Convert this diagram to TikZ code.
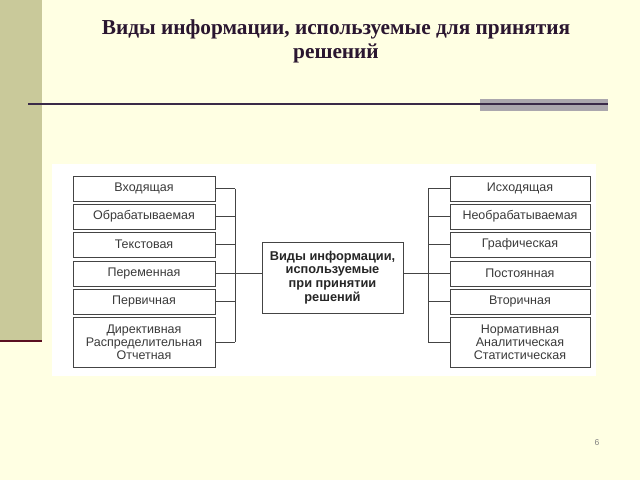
\documentclass[tikz,border=0pt]{standalone}
\usepackage{fontspec}
\setmainfont{Liberation Serif}
\newfontfamily\diag{Liberation Sans}
\definecolor{bgc}{HTML}{FFFFE3}
\definecolor{band}{HTML}{C9C99A}
\definecolor{redline}{HTML}{5A1020}
\definecolor{titlec}{HTML}{2A1630}
\definecolor{rulec}{HTML}{3A2A48}
\definecolor{barc}{HTML}{ABA7AD}
\definecolor{boxc}{HTML}{444444}
\definecolor{txt}{HTML}{3A3A3A}
\begin{document}
\begin{tikzpicture}[x=1pt,y=-1pt,
  cell/.style={draw=boxc, line width=1pt, fill=white, minimum height=25pt, inner sep=0pt,
    font=\diag\fontsize{12.5}{13}\selectfont, text=txt, align=center},
  lcell/.style={cell, minimum width=142pt},
  rcell/.style={cell, minimum width=140pt},
  tall/.style={minimum height=50pt},
  hub/.style={draw=boxc, line width=1pt, fill=white, minimum width=141pt, minimum height=71pt,
    inner sep=0pt, align=center, font=\diag\bfseries\fontsize{12.8}{13.8}\selectfont, text=black!85},
  conn/.style={draw=boxc, line width=1pt},
  titletext/.style={font=\bfseries\fontsize{21.3}{24}\selectfont, text=titlec, inner sep=0pt}
]
\useasboundingbox (0,0) rectangle (640,480);
\fill[bgc] (0,0) rectangle (640,480);
\fill[band] (0,0) rectangle (42,340);
\fill[redline] (0,339.5) rectangle (42,342);
% title
\node[titletext] (t1) at (336,29) {Виды информации, используемые для принятия};
\node[titletext] (t2) at (336,53) {решений};
% rule
\fill[barc] (480,99) rectangle (608,111);
\draw[rulec, line width=1.6pt] (28,104) -- (608,104);
% panel
\fill[white] (52,164) rectangle (596,376);
% left column
\node[lcell] (l1) at (144,188.5) {Входящая};
\node[lcell] (l2) at (144,216.5) {Обрабатываемая};
\node[lcell] (l3) at (144,244.5) {Текстовая};
\node[lcell] (l4) at (144,273.5) {Переменная};
\node[lcell] (l5) at (144,301.5) {Первичная};
\node[lcell,tall] (l6) at (144,342) {Директивная\\Распределительная\\Отчетная};
% right column
\node[rcell] (r1) at (520,188.5) {Исходящая};
\node[rcell] (r2) at (520,216.5) {Необрабатываемая};
\node[rcell] (r3) at (520,244.5) {Графическая};
\node[rcell] (r4) at (520,273.5) {Постоянная};
\node[rcell] (r5) at (520,301.5) {Вторичная};
\node[rcell,tall] (r6) at (520,342) {Нормативная\\Аналитическая\\Статистическая};
% hub
\node[hub] (c) at (332.5,277.5) {Виды информации,\\используемые\\при принятии\\решений};
% buses
\coordinate (lb) at (235,188.5);
\coordinate (rb) at (428,188.5);
\draw[conn] (lb) -- (lb |- l6.east);
\draw[conn] (rb) -- (rb |- r6.west);
\foreach \i in {1,...,6} {
  \draw[conn] (l\i.east) -- (lb |- l\i.east);
  \draw[conn] (r\i.west) -- (rb |- r\i.west);
}
\draw[conn] (lb |- l4.east) -- (c.west |- l4.east);
\draw[conn] (c.east |- r4.west) -- (rb |- r4.west);
% page number
\node[font=\diag\fontsize{8.5}{9}\selectfont, text=gray, inner sep=0pt] (pn) at (597,443) {6};
\end{tikzpicture}
\end{document}
